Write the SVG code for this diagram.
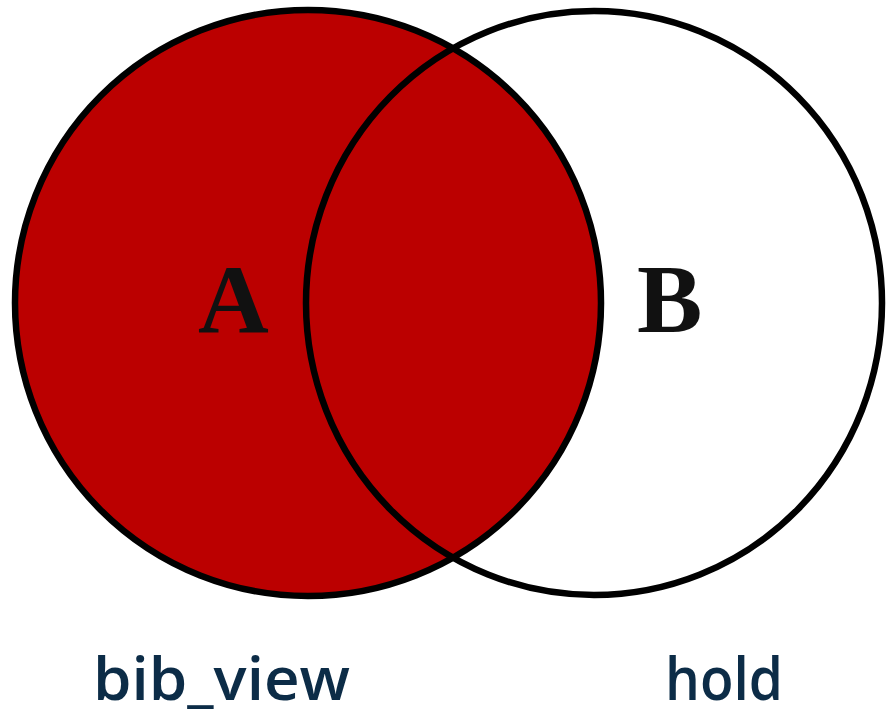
<svg xmlns="http://www.w3.org/2000/svg" width="886" height="713" viewBox="0 0 886 713">
<style>
.c{stroke:#000;stroke-width:6.5}
.big{font-family:"Liberation Serif","Times New Roman",serif;font-weight:bold;font-size:98px;fill:#111}
.lbl{font-family:"Open Sans","Liberation Sans",Arial,sans-serif;font-weight:600;font-size:60px;fill:#0c2c47}
</style>
<rect width="886" height="713" fill="#fff"/>
<g id="setA">
<circle class="c" cx="308" cy="303" r="293" fill="#bb0000"/>
</g>
<g id="setB">
<ellipse class="c" cx="594" cy="303" rx="288" ry="292" fill="none"/>
</g>
<g id="labels">
<text class="big" x="198" y="332">A</text>
<text class="big" x="637" y="332">B</text>
<text class="lbl" x="93" y="700" textLength="257" lengthAdjust="spacingAndGlyphs">bib_view</text>
<text class="lbl" x="665" y="700" textLength="118" lengthAdjust="spacingAndGlyphs">hold</text>
</g>
</svg>
